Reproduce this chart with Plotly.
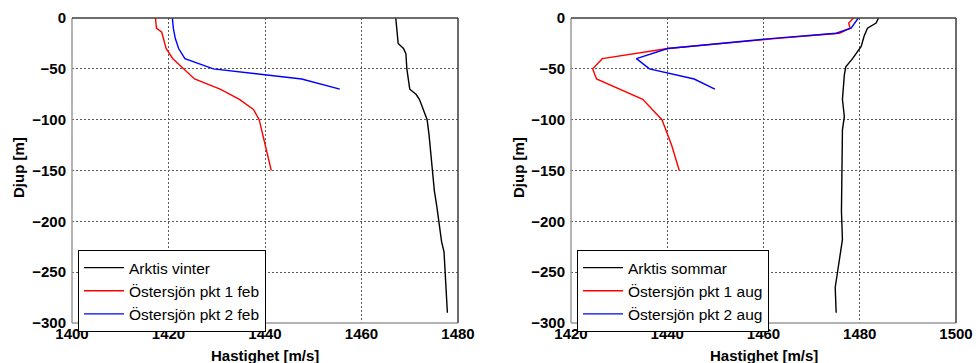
import plotly.graph_objects as go

# ---------------- data ----------------
# Left panel (winter / February)
arktis_vinter_depth = [0, -10, -25, -30, -35, -50, -70, -75, -80, -90, -100, -115, -130, -150,
                       -170, -185, -200, -220, -230, -240, -260, -275, -290]
arktis_vinter_speed = [1467.1, 1467.3, 1467.6, 1468.7, 1469.2, 1469.4, 1470.0, 1471.3, 1472.0, 1472.8,
                       1473.6, 1474.0, 1474.3, 1474.8, 1475.1, 1475.6, 1476.0, 1476.6, 1477.1, 1477.2,
                       1477.5, 1477.7, 1477.8]

pkt1_feb_depth = [0, -10, -14, -20, -30, -40, -50, -60, -70, -80, -90, -100, -120, -150]
pkt1_feb_speed = [1417.3, 1417.5, 1418.6, 1418.9, 1419.5, 1420.9, 1423.1, 1425.4, 1430.7, 1434.7,
                  1437.6, 1438.8, 1439.8, 1441.3]

pkt2_feb_depth = [0, -10, -20, -30, -40, -50, -60, -70]
pkt2_feb_speed = [1420.8, 1421.0, 1421.4, 1422.1, 1423.4, 1429.3, 1447.6, 1455.5]

# Right panel (summer / August)
arktis_sommar_depth = [0, -5, -10, -18, -28, -40, -48, -56, -80, -97, -110, -150, -190, -218,
                       -240, -255, -265, -290]
arktis_sommar_speed = [1483.9, 1483.4, 1481.6, 1480.9, 1480.3, 1478.5, 1477.1, 1476.8, 1476.4,
                       1476.8, 1476.4, 1476.3, 1476.2, 1476.4, 1475.7, 1475.1, 1474.9, 1475.1]

pkt1_aug_depth = [0, -5, -10, -15, -20, -30, -40, -50, -60, -80, -100, -125, -150]
pkt1_aug_speed = [1478.7, 1477.7, 1478.0, 1475.8, 1463.0, 1440.1, 1426.5, 1424.5, 1425.3, 1434.9,
                  1438.9, 1440.9, 1442.5]

pkt2_aug_depth = [0, -10, -15, -20, -30, -40, -50, -60, -70]
pkt2_aug_speed = [1479.7, 1478.2, 1475.1, 1462.0, 1440.1, 1433.6, 1436.3, 1445.6, 1449.9]

x_ticks_left = [1400, 1420, 1440, 1460, 1480]
x_ticks_right = [1420, 1440, 1460, 1480, 1500]
y_ticks = [0, -50, -100, -150, -200, -250, -300]

names_left = ["Arktis vinter", "Östersjön pkt 1 feb", "Östersjön pkt 2 feb"]
names_right = ["Arktis sommar", "Östersjön pkt 1 aug", "Östersjön pkt 2 aug"]
colors = ["#000000", "#ff0000", "#0000ff"]

x_title = "Hastighet [m/s]"
y_title = "Djup [m]"

# ---------------- figure ----------------
W, H = 976, 363
FONT = "Liberation Sans, Arial, sans-serif"

fig = go.Figure()

left_series = [(arktis_vinter_speed, arktis_vinter_depth),
               (pkt1_feb_speed, pkt1_feb_depth),
               (pkt2_feb_speed, pkt2_feb_depth)]
right_series = [(arktis_sommar_speed, arktis_sommar_depth),
                (pkt1_aug_speed, pkt1_aug_depth),
                (pkt2_aug_speed, pkt2_aug_depth)]

for (xs, ys), name, col in zip(left_series, names_left, colors):
    fig.add_trace(go.Scatter(x=xs, y=ys, mode="lines", name=name,
                             line=dict(color=col, width=1.4),
                             xaxis="x", yaxis="y", legend="legend"))
for (xs, ys), name, col in zip(right_series, names_right, colors):
    fig.add_trace(go.Scatter(x=xs, y=ys, mode="lines", name=name,
                             line=dict(color=col, width=1.4),
                             xaxis="x2", yaxis="y2", legend="legend2"))

# plot areas in pixels
L_x0, L_x1 = 72, 458
R_x0, R_x1 = 571, 956
Y_top, Y_bot = 18, 323
ydom = [1 - Y_bot / H, 1 - Y_top / H]

tickfont = dict(family=FONT, size=15, color="#000000", weight="bold")
grid = dict(showgrid=True, gridcolor="#5a5a5a", gridwidth=1, griddash="2px,2px",
            zeroline=False, showline=False, ticks="", tickfont=tickfont,
            automargin=False)

legend_common = dict(bgcolor="white", bordercolor="#000000", borderwidth=1,
                     font=dict(family=FONT, size=15.5, color="#000000"),
                     tracegroupgap=0, itemwidth=40)

fig.update_layout(
    template=None,
    width=W, height=H,
    margin=dict(l=0, r=0, t=0, b=0, autoexpand=False),
    paper_bgcolor="white", plot_bgcolor="white",
    font=dict(family=FONT),
    xaxis=dict(domain=[L_x0 / W, L_x1 / W], range=[1400, 1480], tickvals=x_ticks_left,
               anchor="y", **grid),
    yaxis=dict(domain=ydom, range=[-300, 0], tickvals=y_ticks, anchor="x",
               ticklabelstandoff=5, **grid),
    xaxis2=dict(domain=[R_x0 / W, R_x1 / W], range=[1420, 1500], tickvals=x_ticks_right,
                anchor="y2", **grid),
    yaxis2=dict(domain=ydom, range=[-300, 0], tickvals=y_ticks, anchor="x2",
                ticklabelstandoff=5, **grid),
    legend=dict(x=78 / W, y=1 - 250 / H, xanchor="left", yanchor="top", **legend_common),
    legend2=dict(x=577 / W, y=1 - 250 / H, xanchor="left", yanchor="top", **legend_common),
    showlegend=True,
)

# axes frame: left/bottom lighter, top/right darker (as in reference)
for xr, yr in [("x domain", "y domain"), ("x2 domain", "y2 domain")]:
    fig.add_shape(type="line", xref=xr, yref=yr, x0=0, x1=0, y0=0, y1=1,
                  line=dict(color="#9a9a9a", width=1.5))
    fig.add_shape(type="line", xref=xr, yref=yr, x0=0, x1=1, y0=0, y1=0,
                  line=dict(color="#9a9a9a", width=1.5))
    fig.add_shape(type="line", xref=xr, yref=yr, x0=0, x1=1, y0=1, y1=1,
                  line=dict(color="#3c3c3c", width=1.5))
    fig.add_shape(type="line", xref=xr, yref=yr, x0=1, x1=1, y0=0, y1=1,
                  line=dict(color="#3c3c3c", width=1.5))

titlefont = dict(family=FONT, size=15, color="#000000", weight="bold")
for x0, x1, yx in [(L_x0, L_x1, 18), (R_x0, R_x1, 518)]:
    fig.add_annotation(text=x_title, xref="paper", yref="paper",
                       x=(x0 + x1) / 2 / W, y=1 - 355 / H, xanchor="center", yanchor="middle",
                       showarrow=False, font=titlefont)
    fig.add_annotation(text=y_title, xref="paper", yref="paper",
                       x=yx / W, y=1 - 168 / H, xanchor="center", yanchor="middle",
                       textangle=-90, showarrow=False, font=titlefont)

fig.write_html("out.html",
               config={"displayModeBar": False},
               post_script="document.body.style.margin='0';document.body.style.padding='0';")
